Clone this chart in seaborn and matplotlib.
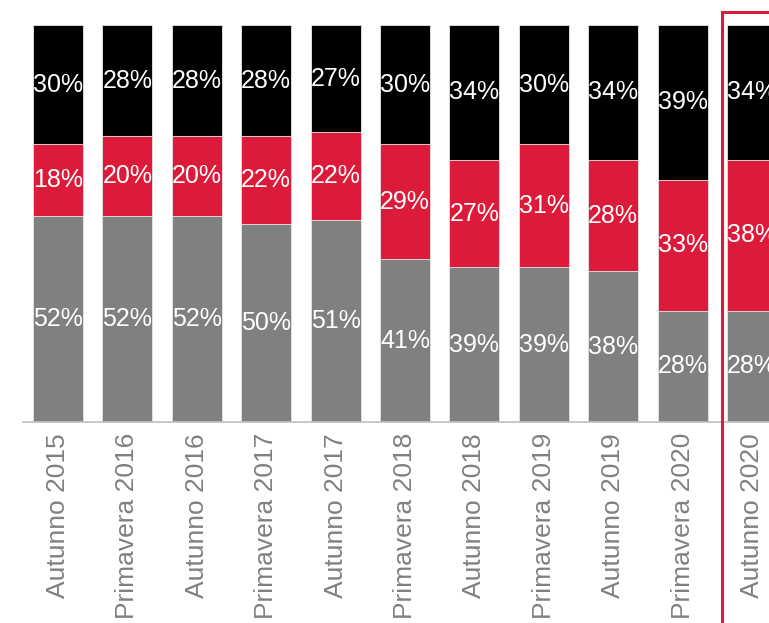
import matplotlib
matplotlib.use("Agg")
import matplotlib.pyplot as plt
import seaborn as sns
import pandas as pd
import numpy as np
from matplotlib.patches import Rectangle

categories = ["Autunno 2015", "Primavera 2016", "Autunno 2016", "Primavera 2017",
              "Autunno 2017", "Primavera 2018", "Autunno 2018", "Primavera 2019",
              "Autunno 2019", "Primavera 2020", "Autunno 2020"]
gray_vals = [52, 52, 52, 50, 51, 41, 39, 39, 38, 28, 28]
red_vals = [18, 20, 20, 22, 22, 29, 27, 31, 28, 33, 38]
black_vals = [30, 28, 28, 28, 27, 30, 34, 30, 34, 39, 34]

GRAY = "#808080"
RED = "#DC1A3A"
BLACK = "#000000"

sns.set_theme(style="white")
plt.rcParams["font.family"] = ["Liberation Sans", "DejaVu Sans"]

fig = plt.figure(figsize=(7.69, 6.23), dpi=100)
ax = fig.add_axes([23 / 769, 201 / 623, 1 - 23 / 769, 397 / 623])

g = np.array(gray_vals, dtype=float)
r = np.array(red_vals, dtype=float)
b = np.array(black_vals, dtype=float)
df = pd.DataFrame({"cat": categories, "gray": g, "gr": g + r, "total": g + r + b})

for col, color in [("total", BLACK), ("gr", RED), ("gray", GRAY)]:
    sns.barplot(data=df, x="cat", y=col, color=color, width=0.72, ax=ax,
                saturation=1, edgecolor="#e8e8e8", linewidth=0.6)

for i in range(len(categories)):
    for bottom, h in [(0, g[i]), (g[i], r[i]), (g[i] + r[i], b[i])]:
        ax.text(i, bottom + h / 2, f"{int(h)}%", ha="center", va="center",
                color="white", fontsize=18)

ax.set_xlim(-0.504, 10.245)
ax.set_ylim(0, 100)
ax.set_xlabel("")
ax.set_ylabel("")
ax.set_yticks([])
ax.tick_params(axis="x", length=0, pad=8, labelsize=19, labelcolor="#808080")
plt.setp(ax.get_xticklabels(), rotation=90)
for s in ["top", "right", "left"]:
    ax.spines[s].set_visible(False)
ax.spines["bottom"].set_color("#bfbfbf")
ax.spines["bottom"].set_linewidth(1.2)

rect = Rectangle((721.5 / 769, -10 / 623), 0.2, (633 - 11.5) / 623,
                 transform=fig.transFigure, fill=False, edgecolor=RED,
                 linewidth=2.2, clip_on=False)
fig.patches.append(rect)

fig.savefig("out.png", dpi=100)
